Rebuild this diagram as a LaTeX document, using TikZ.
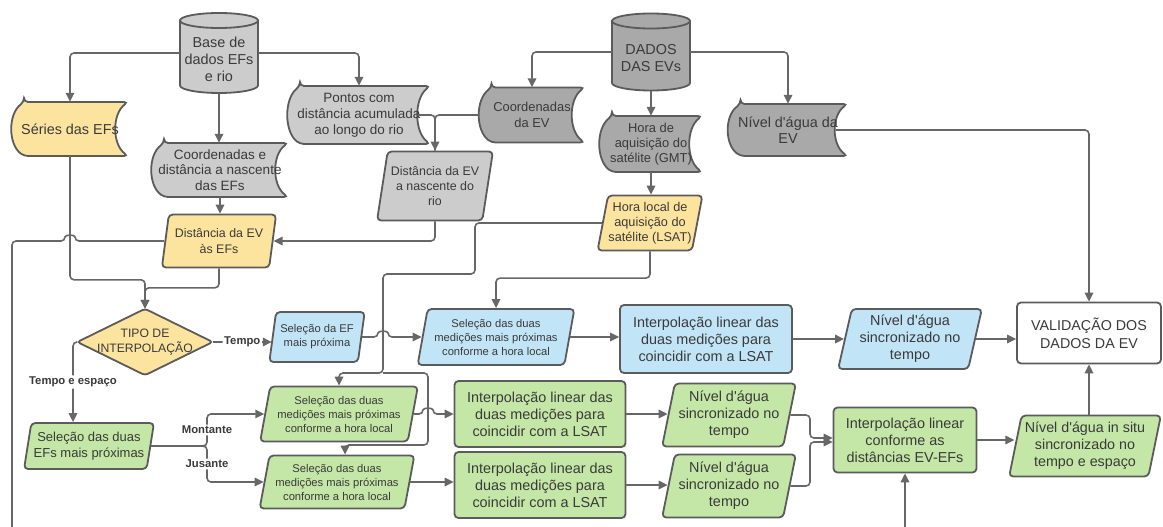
\documentclass[tikz,border=0pt]{standalone}
\usepackage{fontspec}
\setmainfont{Liberation Sans}[Ligatures=TeXOff]
\usetikzlibrary{arrows.meta,shapes.geometric,calc}
\pgfdeclarelayer{background}
\pgfsetlayers{background,main}

\definecolor{edgecol}{HTML}{5B5B5B}
\definecolor{linecol}{HTML}{676767}
\definecolor{txtcol}{HTML}{3A3A3A}
\definecolor{grayL}{HTML}{CCCCCC}
\definecolor{grayD}{HTML}{A9A9A9}
\definecolor{yellowF}{HTML}{FCE49F}
\definecolor{blueF}{HTML}{C1E4F7}
\definecolor{greenF}{HTML}{C4E6A6}

\tikzset{
  shapeline/.style={draw=edgecol, line width=1.8pt, rounded corners=4pt},
  txt/.style={text=txtcol, align=center, inner sep=0pt},
  fA/.style={font=\fontsize{14.4}{17}\selectfont},
  fB/.style={font=\fontsize{13.5}{15.8}\selectfont},
  fC/.style={font=\fontsize{12.9}{15.3}\selectfont},
  fD/.style={font=\fontsize{12.4}{15.3}\selectfont},
  fE/.style={font=\fontsize{11.2}{14}\selectfont},
  box/.style={txt, shapeline, rectangle},
  para/.style={txt, shapeline, trapezium, trapezium left angle=76,
    trapezium right angle=104, trapezium stretches=true},
  conn/.style={draw=linecol, line width=1.6pt, rounded corners=4pt,
    -{Triangle[length=9pt,width=8.5pt]}},
  plainline/.style={draw=linecol, line width=1.6pt, rounded corners=4pt},
  lbl/.style={fill=white, text=txtcol, inner sep=1.5pt,
    font=\bfseries\fontsize{11.3}{13}\selectfont},
}

% database cylinder: name, cx, cy, width, height, fill, text
\newcommand\cylnode[7]{%
  \begin{pgfonlayer}{background}
    \path[shapeline, rounded corners=0pt, fill=#6]
      (#2-#4/2,#3-#5/2+7.5) -- (#2-#4/2,#3+#5/2-7.5)
      .. controls (#2-#4/2,#3+#5/2-3.4) and (#2-0.276*#4,#3+#5/2) .. (#2,#3+#5/2)
      .. controls (#2+0.276*#4,#3+#5/2) and (#2+#4/2,#3+#5/2-3.4) .. (#2+#4/2,#3+#5/2-7.5)
      -- (#2+#4/2,#3-#5/2+7.5) -- cycle;
    \path[shapeline, fill=#6] (#2,#3-#5/2+7.5) ellipse [x radius=#4/2, y radius=7.5];
  \end{pgfonlayer}
  \node[txt, fA, minimum width=#4pt, minimum height=#5pt-12pt] (#1) at (#2,#3+6) {#7};}

% stored-data shape: name, cx, cy, width, height, fill, font style, text
\newcommand\storednode[8]{%
  \node[txt, #7, minimum width=#4pt, minimum height=#5pt] (#1) at (#2,#3) {#8};
  \begin{pgfonlayer}{background}
    \path[shapeline, fill=#6]
      (#2-#4/2+12,#3-#5/2) -- (#2+#4/2,#3-#5/2)
      .. controls (#2+#4/2-16,#3-#5/2+0.22*#5) and (#2+#4/2-16,#3+#5/2-0.22*#5) .. (#2+#4/2,#3+#5/2)
      -- (#2-#4/2+12,#3+#5/2)
      .. controls (#2-#4/2-4,#3+#5/2-0.22*#5) and (#2-#4/2-4,#3-#5/2+0.22*#5) .. (#2-#4/2+12,#3-#5/2)
      -- cycle;
  \end{pgfonlayer}}

\begin{document}
\begin{tikzpicture}[x=1pt,y=-1pt]
\useasboundingbox (0,0) rectangle (1163,527);

% ---------- data sources ----------
\cylnode{base}{219}{53}{78}{80}{grayL}{Base de\\dados EFs\\e rio}
\cylnode{dados}{651}{52}{78}{77}{grayD}{DADOS\\DAS EVs}

\storednode{series}{70}{129}{116}{54}{yellowF}{fA}{Séries das EFs}
\storednode{coordefs}{220}{170}{136}{54}{grayL}{fB}{Coordenadas e\\distância a nascente\\das EFs}
\storednode{pontos}{359}{115}{142}{58}{grayL}{fB}{Pontos com\\distância acumulada\\ao longo do rio}
\storednode{coordev}{532}{115}{105}{55}{grayD}{fC}{Coordenadas\\da EV}
\storednode{horagmt}{651}{144}{102}{56}{grayD}{fC}{Hora de\\aquisição do\\satélite (GMT)}
\storednode{nivelev}{788}{130}{119}{52}{grayD}{font=\fontsize{14.4}{15.5}\selectfont}{Nível d'água da\\EV}

% ---------- derived data ----------
\node[para, fill=grayL, fD, minimum width=116pt, minimum height=69pt] (distnasc) at (435,186) {Distância da EV\\a nascente do\\rio};
\node[para, fill=yellowF, fD, minimum width=115pt, minimum height=53pt] (distefs) at (219,241) {Distância da EV\\às EFs};
\node[para, fill=yellowF, font=\fontsize{12.7}{15}\selectfont, minimum width=105pt, minimum height=55pt] (lsat) at (650,223) {Hora local de\\aquisição do\\satélite (LSAT)};

% ---------- decision ----------
\node[txt, font=\fontsize{12.2}{15}\selectfont, minimum width=135pt, minimum height=66pt] (tipo) at (145,342) {TIPO DE\\INTERPOLAÇÃO};
\begin{pgfonlayer}{background}
  \path[shapeline, rounded corners=3pt, fill=yellowF] (tipo.north) -- (tipo.east) -- (tipo.south) -- (tipo.west) -- cycle;
\end{pgfonlayer}

% ---------- time-only branch ----------
\node[para, fill=blueF, fE, minimum width=96pt, minimum height=50pt] (selef) at (317,337) {Seleção da EF\\mais próxima};
\node[para, fill=blueF, fE, minimum width=157pt, minimum height=56pt] (selmedb) at (496,337) {Seleção das duas\\medições mais próximas\\conforme a hora local};
\node[box, fill=blueF, fA, minimum width=172pt, minimum height=68pt] (interpb) at (706,339) {Interpolação linear das\\duas medições para\\coincidir com a LSAT};
\node[para, fill=blueF, fA, minimum width=144pt, minimum height=60pt] (nivelb) at (910,339) {Nível d'água\\sincronizado no\\tempo};
\node[box, fill=white, font=\fontsize{14.3}{18}\selectfont, minimum width=144pt, minimum height=61pt] (valid) at (1089,333) {VALIDAÇÃO DOS\\DADOS DA EV};

% ---------- time-and-space branch ----------
\node[para, fill=greenF, font=\fontsize{13}{16}\selectfont, minimum width=130pt, minimum height=46pt] (seleefs) at (89,446) {Seleção das duas\\EFs mais próximas};
\node[para, fill=greenF, fE, minimum width=158pt, minimum height=55pt] (selmedg1) at (339,414) {Seleção das duas\\medições mais próximas\\conforme a hora local};
\node[para, fill=greenF, fE, minimum width=155pt, minimum height=53pt] (selmedg2) at (337,482) {Seleção das duas\\medições mais próximas\\conforme a hora local};
\node[box, fill=greenF, fA, minimum width=171pt, minimum height=66pt] (interpg1) at (540,414) {Interpolação linear das\\duas medições para\\coincidir com a LSAT};
\node[box, fill=greenF, fA, minimum width=171pt, minimum height=66pt] (interpg2) at (540,485) {Interpolação linear das\\duas medições para\\coincidir com a LSAT};
\node[para, fill=greenF, fA, minimum width=134pt, minimum height=63pt] (nivelg1) at (729,415) {Nível d'água\\sincronizado no\\tempo};
\node[para, fill=greenF, fA, minimum width=134pt, minimum height=63pt] (nivelg2) at (729,486) {Nível d'água\\sincronizado no\\tempo};
\node[box, fill=greenF, fA, minimum width=143pt, minimum height=65pt] (interpd) at (905,440) {Interpolação linear\\conforme as\\distâncias EV-EFs};
\node[para, fill=greenF, font=\fontsize{14.3}{17}\selectfont, minimum width=152pt, minimum height=61pt] (nivelsitu) at (1085,446) {Nível d'água in situ\\sincronizado no\\tempo e espaço};

% ---------- connectors: sources ----------
\draw[conn] ([yshift=6pt]base.west) -| (series.north);
\draw[conn] ([yshift=6pt]base.east) -| (pontos.north);
\draw[conn] (base.south) -- (base.south |- coordefs.north);
\draw[conn] (coordefs.south) -- (coordefs.south |- distefs.north);
\draw[conn] ([yshift=6pt]dados.west) -| (coordev.north);
\draw[conn] ([yshift=6pt]dados.east) -| (nivelev.north);
\draw[conn] (dados.south) -- (dados.south |- horagmt.north);
\draw[conn] ([xshift=-12pt]pontos.east) -| (distnasc.north);
\draw[plainline] (coordev.west) -| (distnasc.north);
\draw[conn] (distnasc.south) |- (distefs.east);
\draw[conn] (horagmt.south) -- (horagmt.south |- lsat.north);

% ---------- connectors: into the decision ----------
\draw[conn] (series.south) |- ([yshift=29pt]tipo.north) -- (tipo.north);
\draw[conn] (distefs.south) |- ([yshift=21pt]tipo.north) -- (tipo.north);

% distance line leaving towards the lower part
\coordinate (offl) at (12,527);
\draw[plainline] (distefs.west) -- (75,241) .. controls (75,234.5) and (65,234.5) .. (65,241) -- (12,241) -- (offl);

% local time feeding the selections
\coordinate (split) at (383,373);
\draw[conn] (lsat.west) -- (475,223) -- (475,274) -- (383,274) -- (split) -| (selmedg1.north);
\draw[conn] (split) -- (428,373) -- (428,445) -| ([xshift=8pt]selmedg2.north);
\draw[conn] (lsat.south) |- ([yshift=30pt]selmedb.north) -- (selmedb.north);

% ---------- time-only branch ----------
\draw[conn] (tipo.east) -- (tipo.east -| selef.west) node[lbl, midway] {Tempo};
\draw[conn] (selef.east) -- (378,337) .. controls (378,330.5) and (388,330.5) .. (388,337) -- (selmedb.west);
\draw[conn] (selmedb.east) -- (selmedb.east -| interpb.west);
\draw[conn] (interpb.east) -- (interpb.east -| nivelb.west);
\draw[conn] (nivelb.east) -- (nivelb.east -| valid.west);
\draw[conn] ([xshift=-12pt]nivelev.east) -| (valid.north);

% ---------- time-and-space branch ----------
\draw[conn] (tipo.west) -| ([xshift=-16pt]seleefs.north) node[lbl, pos=0.75] {Tempo e espaço};
\draw[conn] (seleefs.east) -- (207,446) |- node[lbl, pos=0.25] {Montante} (selmedg1.west);
\draw[conn] (seleefs.east) -- (207,446) |- node[lbl, pos=0.25] {Jusante} (selmedg2.west);
\draw[conn] (selmedg1.east) -- (423,414) .. controls (423,407.5) and (433,407.5) .. (433,414) -- (selmedg1.east -| interpg1.west);
\draw[conn] (selmedg2.east) -- (selmedg2.east -| interpg2.west);
\draw[conn] (interpg1.east) -- (interpg1.east -| nivelg1.west);
\draw[conn] (interpg2.east) -- (interpg2.east -| nivelg2.west);
\draw[conn] (nivelg1.east) -- (810,415) |- ([yshift=2pt]interpd.west);
\draw[conn] (nivelg2.east) -- (810,486) |- ([yshift=-2pt]interpd.west);
\coordinate (offr) at (905,527);
\draw[conn] (offr) -- (interpd.south);
\draw[conn] (interpd.east) -- (interpd.east -| nivelsitu.west);
\draw[conn] (valid.south |- nivelsitu.north) -- (valid.south);

\end{tikzpicture}
\end{document}
